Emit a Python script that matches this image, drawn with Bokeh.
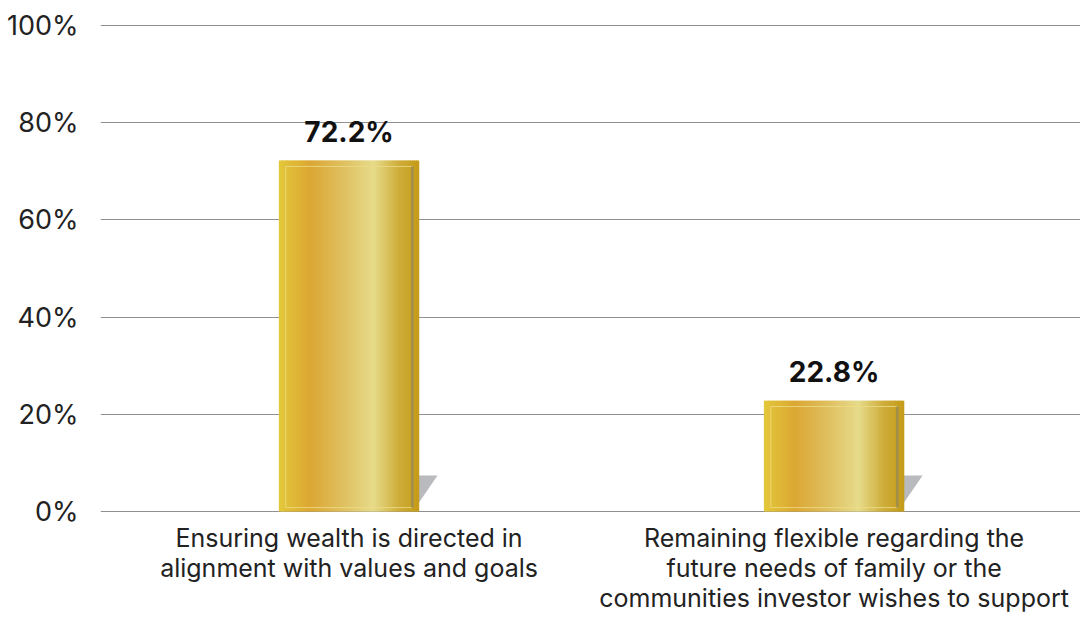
from bokeh.plotting import figure
from bokeh.models import ColumnDataSource, FixedTicker
from bokeh.embed import file_html
from bokeh.resources import INLINE
from bokeh.core.properties import value

categories = [
    "Ensuring wealth is directed in\nalignment with values and goals",
    "Remaining flexible regarding the\nfuture needs of family or the\ncommunities investor wishes to support",
]
values = [72.2, 22.8]
value_labels = ["72.2%", "22.8%"]
y_ticks = [0, 20, 40, 60, 80, 100]
y_tick_labels = ["0%", "20%", "40%", "60%", "80%", "100%"]

FONT = "Inter"
W, H = 1080, 615
X0, X1 = -0.5124, 1.508
p = figure(width=W, height=H, x_range=(X0, X1), y_range=(-1.03, 101.03),
           output_backend="svg", toolbar_location=None,
           min_border_left=100, min_border_right=0, min_border_top=20, min_border_bottom=99)
p.outline_line_color = None
p.background_fill_color = "white"

xs = list(range(len(categories)))
bar_w = 0.287

# gradient stops across bar width (style only)
stops = [(0.0, (0xE3, 0xC8, 0x3A)), (0.22, (0xDB, 0xA7, 0x33)), (0.45, (0xDF, 0xBE, 0x5E)),
         (0.68, (0xE6, 0xDB, 0x8A)), (0.86, (0xCF, 0xAD, 0x3A)), (1.0, (0xC4, 0x9C, 0x18))]

def col_at(t):
    for (t0, c0), (t1, c1) in zip(stops[:-1], stops[1:]):
        if t0 <= t <= t1:
            f = (t - t0) / (t1 - t0)
            c = [int(round(a + (b - a) * f)) for a, b in zip(c0, c1)]
            return "#%02x%02x%02x" % tuple(c)
    return "#%02x%02x%02x" % stops[-1][1]

# shadows
sh_x, sh_y = [], []
for x in xs:
    r = x + bar_w / 2
    sh_x.append([r - 0.01, r + 0.039, r - 0.01])
    sh_y.append([7.4, 7.4, 0.3])
p.patches(sh_x, sh_y, fill_color="#B9BABE", line_color=None)

N = 70
sx, st, sc = [], [], []
for x, v in zip(xs, values):
    for i in range(N):
        t = (i + 0.5) / N
        sx.append(x - bar_w / 2 + t * bar_w)
        st.append(v)
        sc.append(col_at(t))
strips = ColumnDataSource(dict(x=sx, top=st, color=sc))
p.vbar(x="x", top="top", bottom=0, width=bar_w / N * 1.6, source=strips,
       fill_color="color", line_color=None)

# inner bevel lines
inset = 0.013
for x, v in zip(xs, values):
    p.line([x - bar_w / 2 + inset, x - bar_w / 2 + inset, x + bar_w / 2 - inset],
           [0.8, v - 1.2, v - 1.2], line_color="#EEDC86", line_width=1, line_alpha=0.8)
    p.line([x - bar_w / 2 + inset, x + bar_w / 2 - inset], [0.8, 0.8],
           line_color="#EEDC86", line_width=1, line_alpha=0.8)
    p.line([x + bar_w / 2 - inset, x + bar_w / 2 - inset], [0.8, v - 1.2],
           line_color="#9A8B55", line_width=2.5, line_alpha=0.85)

src = ColumnDataSource(dict(x=xs, top=values, label=value_labels))
p.text(x="x", y="top", text="label", source=src, text_align="center",
       text_baseline="alphabetic", y_offset=-29, text_font=value(FONT),
       text_font_size="28px", text_font_style="bold", text_color="#111111")

p.xgrid.grid_line_color = None
p.ygrid.ticker = FixedTicker(ticks=y_ticks)
p.ygrid.grid_line_color = "#909090"
p.ygrid.grid_line_width = 1.2
p.ygrid.level = "underlay"

p.yaxis.ticker = FixedTicker(ticks=y_ticks)
p.yaxis.major_label_overrides = {t: l for t, l in zip(y_ticks, y_tick_labels)}
p.yaxis.axis_line_color = None
p.yaxis.major_tick_line_color = None
p.yaxis.minor_tick_line_color = None
p.yaxis.major_label_standoff = 16
p.yaxis.major_label_text_font = FONT
p.yaxis.major_label_text_font_size = "27px"
p.yaxis.major_label_text_color = "#222222"

p.xaxis.ticker = FixedTicker(ticks=xs)
p.xaxis.major_label_overrides = {x: c for x, c in zip(xs, categories)}
p.xaxis.axis_line_color = None
p.xaxis.major_tick_line_color = None
p.xaxis.minor_tick_line_color = None
p.xaxis.major_label_standoff = 0
p.xaxis.major_label_text_font = FONT
p.xaxis.major_label_text_font_size = "25px"
p.xaxis.major_label_text_color = "#222222"
p.xaxis.major_label_text_line_height = 1.0

open("out.html", "w").write(file_html(p, INLINE))
